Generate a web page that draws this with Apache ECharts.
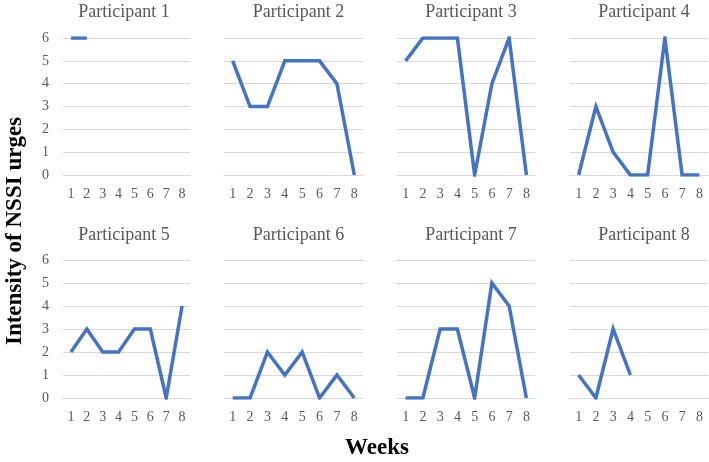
<!DOCTYPE html>
<html>
<head>
<meta charset="utf-8">
<script src="https://cdn.jsdelivr.net/npm/echarts@6/dist/echarts.min.js"></script>
<style>
  html, body { margin: 0; padding: 0; background: #fff; }
  #chart { width: 709px; height: 462px; }
</style>
</head>
<body>
<div id="chart"></div>
<script>
// weeks on the x axis
var weeks = ['1', '2', '3', '4', '5', '6', '7', '8']
var participants = ['Participant 1', 'Participant 2', 'Participant 3', 'Participant 4',
  'Participant 5', 'Participant 6', 'Participant 7', 'Participant 8']
// NSSI urge intensity per week, null = no data
var p1 = [6, 6, null, null, null, null, null, null]
var p2 = [5, 3, 3, 5, 5, 5, 4, 0]
var p3 = [5, 6, 6, 6, 0, 4, 6, 0]
var p4 = [0, 3, 1, 0, 0, 6, 0, 0]
var p5 = [2, 3, 2, 2, 3, 3, 0, 4]
var p6 = [0, 0, 2, 1, 2, 0, 1, 0]
var p7 = [0, 0, 3, 3, 0, 5, 4, 0]
var p8 = [1, 0, 3, 1, null, null, null, null]
var yTicks = [0, 1, 2, 3, 4, 5, 6]

var allData = [p1, p2, p3, p4, p5, p6, p7, p8]

var chart = echarts.init(document.getElementById('chart'))

var lefts = [63, 224, 397, 570]
var widths = [127, 139, 138, 138]
var tops = [38, 260]
var heights = [137, 138]
var serif = '"Liberation Serif", "DejaVu Serif", serif'

var grids = []
var xAxes = []
var yAxes = []
var series = []
var titles = []

allData.forEach(function (d, i) {
  var col = i % 4
  var row = Math.floor(i / 4)
  grids.push({
    left: lefts[col],
    top: tops[row],
    width: widths[col],
    height: heights[row]
  })
  xAxes.push({
    type: 'category',
    gridIndex: i,
    data: weeks,
    boundaryGap: true,
    axisLine: { lineStyle: { color: '#d9d9d9', width: 1 } },
    axisTick: { show: false },
    axisLabel: { color: '#595959', fontFamily: serif, fontSize: 14, margin: 12 }
  })
  yAxes.push({
    type: 'value',
    gridIndex: i,
    min: yTicks[0],
    max: yTicks[yTicks.length - 1],
    interval: 1,
    axisLine: { show: false },
    axisTick: { show: false },
    splitLine: { lineStyle: { color: '#d9d9d9', width: 1 } },
    axisLabel: { show: col === 0, color: '#595959', fontFamily: serif, fontSize: 14, margin: 14 }
  })
  series.push({
    type: 'line',
    xAxisIndex: i,
    yAxisIndex: i,
    data: d,
    showSymbol: false,
    symbol: 'none',
    lineStyle: { color: '#4472c4', width: 3.5, join: 'miter' },
    connectNulls: false,
    silent: true
  })
  titles.push({
    text: participants[i],
    left: (col === 0 ? 119 : lefts[col] + widths[col] / 2),
    top: row === 0 ? -2 : 221,
    textAlign: 'center',
    textStyle: { color: '#595959', fontFamily: serif, fontSize: 18, fontWeight: 'normal' }
  })
})

chart.setOption({
  animation: false,
  title: titles,
  grid: grids,
  xAxis: xAxes,
  yAxis: yAxes,
  series: series,
  graphic: [
    {
      type: 'text',
      x: 15,
      y: 231,
      rotation: Math.PI / 2,
      style: {
        text: 'Intensity of NSSI urges',
        fill: '#000',
        font: 'bold 23px ' + serif,
        textAlign: 'center',
        textVerticalAlign: 'middle'
      }
    },
    {
      type: 'text',
      x: 377,
      y: 448,
      style: {
        text: 'Weeks',
        fill: '#000',
        font: 'bold 23px ' + serif,
        textAlign: 'center',
        textVerticalAlign: 'middle'
      }
    }
  ]
})
</script>
</body>
</html>
